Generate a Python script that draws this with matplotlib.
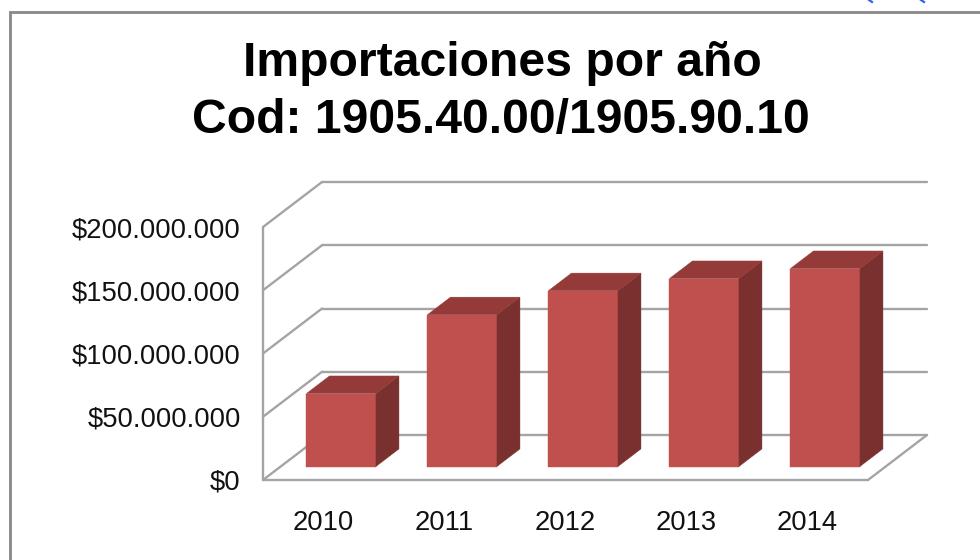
#!/usr/bin/python
#coding=utf-8

import matplotlib
matplotlib.use('Agg')
import matplotlib.pyplot as plt
from matplotlib.lines import Line2D

years = ['2010', '2011', '2012', '2013', '2014']
values = [57.7e6, 120e6, 139e6, 148.6e6, 156.5e6]
yticks = [0, 50e6, 100e6, 150e6, 200e6]
ylabels = ['$0', '$50.000.000', '$100.000.000', '$150.000.000', '$200.000.000']
title_lines = ['Importaciones por año', 'Cod: 1905.40.00/1905.90.10']

plt.rcParams['font.family'] = ['Liberation Sans', 'DejaVu Sans']

W, H = 980, 560
fig = plt.figure(figsize=(W / 100, H / 100), dpi=100, facecolor='white')
# plot box in pixels of the picture
ax = fig.add_axes([263 / W, (H - 480) / H, (927 - 263) / W, (480 - 182) / H])
ax.patch.set_visible(False)

# fake 3d: depth 0 is the front plane, depth 1 the back wall
depth_x = 59 / 121.0
depth_y = 45 / 253.0 * 200e6
n = len(years)
ymax = yticks[-1]
ax.set_xlim(0, n + depth_x)
ax.set_ylim(0, ymax + depth_y)


def proj(cat, val, d):
    return cat + d * depth_x, val + d * depth_y


def line3d(p, q, color='#A4A4A4', lw=1.7):
    a = proj(*p)
    b = proj(*q)
    ax.plot([a[0], b[0]], [a[1], b[1]], color=color, lw=lw, clip_on=False,
            solid_capstyle='round', zorder=1)


def face(pts, color):
    xy = [proj(*p) for p in pts]
    ax.fill([a[0] for a in xy], [a[1] for a in xy], color=color, lw=0.3,
            clip_on=False, zorder=3)


# walls and floor
for t in yticks:
    line3d((0, t, 0), (0, t, 1))
    line3d((0, t, 1), (n, t, 1))
line3d((0, 0, 0), (0, ymax, 0))
line3d((0, 0, 0), (n, 0, 0))
line3d((n, 0, 0), (n, 0, 1))

# bars
bar_w = 69.5 / 121.0
d0, d1 = 0.30, 0.69
for i, v in enumerate(values):
    l = i + 0.5 - bar_w / 2
    r = i + 0.5 + bar_w / 2
    face([(l, 0, d0), (r, 0, d0), (r, v, d0), (l, v, d0)], '#C0504D')
    face([(r, 0, d0), (r, 0, d1), (r, v, d1), (r, v, d0)], '#7A302E')
    face([(l, v, d0), (r, v, d0), (r, v, d1), (l, v, d1)], '#943A38')

ax.set_xticks([i + 0.5 for i in range(n)])
ax.set_xticklabels(years)
ax.set_yticks(yticks)
ax.set_yticklabels(ylabels)
ax.tick_params(axis='both', length=0, labelsize=19.7, labelcolor='#111111')
ax.tick_params(axis='x', pad=21.5)
ax.tick_params(axis='y', pad=16)
for s in ax.spines.values():
    s.set_visible(False)

# titles
fig.text(502 / W, 1 - 63 / H, title_lines[0], ha='center', va='center',
         fontsize=34.7, fontweight='bold', color='black')
fig.text(501 / W, 1 - 120 / H, title_lines[1], ha='center', va='center',
         fontsize=34.7, fontweight='bold', color='black')

# frame of the chart, cut off by the picture at right and bottom
fig.add_artist(Line2D([9.5 / W, 9.5 / W, 1], [0, 1 - 11.5 / H, 1 - 11.5 / H],
                      color='#8C8C8C', lw=2.1, solid_joinstyle='miter'))

# bits of a blue link cut off at the top edge
for px in [869, 921]:
    fig.add_artist(Line2D([px / W, (px + 3) / W], [1 - 0 / H, 1 - 2 / H],
                          color='#2A66E8', lw=1.6))

fig.savefig('out.png', dpi=100)
